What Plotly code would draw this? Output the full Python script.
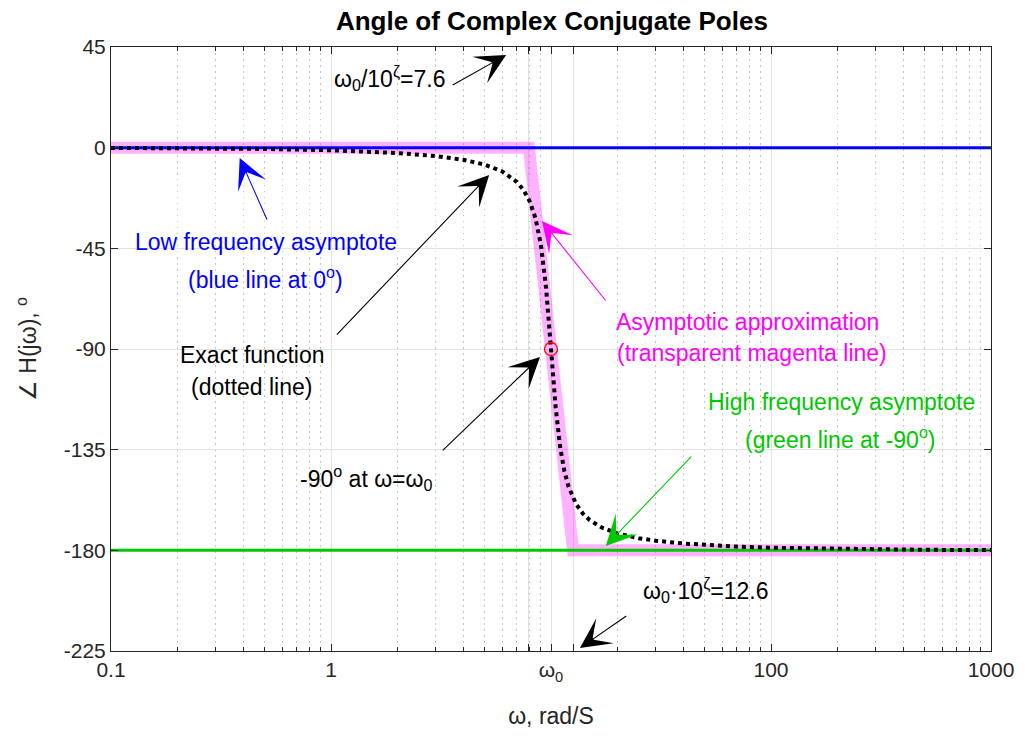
import plotly.graph_objects as go

# Frequencies (rad/s) and phase (deg) of the exact second-order response
omega_exact = [0.1, 0.2, 0.5, 1, 1.5, 2, 3, 4, 5, 6, 7, 7.5, 8, 8.5, 9, 9.5,
               10, 10.5, 11, 11.5, 12, 13, 14, 15, 17, 20, 25, 30, 40, 50,
               70, 100, 200, 500, 1000]
phase_exact = [-0.11, -0.23, -0.57, -1.16, -1.74, -2.39, -3.77, -5.44, -7.59,
               -10.62, -15.35, -18.92, -23.96, -31.49, -43.45, -62.83,
               -90.0, -116.02, -133.67, -144.50, -151.39, -159.35, -163.74,
               -166.50, -169.80, -172.41, -174.56, -175.71, -176.95, -177.61,
               -178.33, -178.84, -179.43, -179.77, -179.89]

# Straight-line asymptotic approximation (breaks at w0/10^z and w0*10^z)
omega_asym = [0.1, 7.94, 12.6, 1000]
phase_asym = [0, 0, -180, -180]

# Low and high frequency asymptotes
omega_span = [0.1, 1000]
phase_low = [0, 0]
phase_high = [-180, -180]

# Marked point at the natural frequency
omega_0 = [10]
phase_w0 = [-90]

# Axis ticks
x_tickvals = [0.1, 1, 7.94, 10, 12.6, 100, 1000]
x_ticktext = ["0.1", "1", "", "ω<sub>0</sub>", "", "100", "1000"]
x_minorvals = ([m * 0.1 for m in range(2, 10)] + [m for m in range(2, 10)] +
               [m * 10 for m in range(2, 10)] + [m * 100 for m in range(2, 10)])
y_tickvals = [-225, -180, -135, -90, -45, 0, 45]
y_ticktext = ["-225", "-180", "-135", "-90", "-45", "0", "45"]

FONT = "Liberation Sans, Arial, Helvetica, sans-serif"
AXC = "#262626"
TXT = 23

fig = go.Figure()
fig.add_trace(go.Scatter(x=omega_asym, y=phase_asym, mode="lines",
                         line=dict(color="rgba(255,0,255,0.3)", width=12),
                         hoverinfo="skip"))
fig.add_trace(go.Scatter(x=omega_span, y=phase_low, mode="lines",
                         line=dict(color="#0000ff", width=3), hoverinfo="skip"))
fig.add_trace(go.Scatter(x=omega_span, y=phase_high, mode="lines",
                         line=dict(color="#00c800", width=3), hoverinfo="skip"))
fig.add_trace(go.Scatter(x=omega_exact, y=phase_exact, mode="lines",
                         line=dict(color="black", width=4, dash="dot"),
                         hoverinfo="skip"))
fig.add_trace(go.Scatter(x=omega_0, y=phase_w0, mode="markers",
                         marker=dict(symbol="circle-open", size=13, color="red",
                                     line=dict(width=1.3, color="red")),
                         hoverinfo="skip"))


def label(x, y, text, color="black"):
    fig.add_annotation(x=x, y=y, xref="x", yref="y", text=text, showarrow=False,
                       font=dict(family=FONT, size=TXT, color=color),
                       xanchor="center", yanchor="middle")


def arrow(x0, y0, x1, y1, color="black"):
    # tail at (x0, y0), head at (x1, y1); x in log10 units
    fig.add_annotation(x=x1, y=y1, ax=x0, ay=y0, xref="x", yref="y",
                       axref="x", ayref="y", text="", showarrow=True,
                       arrowhead=3, arrowsize=4.6, arrowwidth=1.1,
                       arrowcolor=color, standoff=0, startstandoff=0)


label(0.265, 31.1, "ω<sub>0</sub>/10<sup>ζ</sup>=7.6")
arrow(0.5465, 27.6, 0.796, 41.4)

label(-0.297, -42.2, "Low frequency asymptote", "#0000ff")
label(-0.297, -58.3, "(blue line at 0<sup>o</sup>)", "#0000ff")
arrow(-0.288, -32.8, -0.415, -4.6, "#0000ff")

label(-0.36, -92.7, "Exact function")
label(-0.36, -107.0, "(dotted line)")
arrow(0.020, -84.2, 0.719, -12.2)

label(0.161, -147.7, "-90<sup>o</sup> at ω=ω<sub>0</sub>")
arrow(0.501, -136.0, 0.950, -93.6)

label(1.893, -77.9, "Asymptotic approximation", "#ff00ff")
label(1.912, -91.8, "(transparent magenta line)", "#ff00ff")
arrow(1.254, -69.0, 0.959, -32.8, "#ff00ff")

label(2.320, -113.7, "High frequency asymptote", "#00c800")
label(2.315, -129.8, "(green line at -90<sup>o</sup>)", "#00c800")
arrow(1.644, -137.4, 1.249, -178.1, "#00c800")

label(1.703, -197.7, "ω<sub>0</sub>·10<sup>ζ</sup>=12.6")
arrow(1.349, -208.9, 1.1315, -223.7)

fig.update_layout(
    width=1026, height=743,
    margin=dict(l=111, r=33, t=47, b=92),
    paper_bgcolor="white", plot_bgcolor="white",
    showlegend=False,
    font=dict(family=FONT, size=21, color=AXC),
    title=dict(text="<b>Angle of Complex Conjugate Poles</b>",
               x=0.5379, xanchor="center", y=0.972, yanchor="middle",
               font=dict(family=FONT, size=26, color="black")),
)

fig.update_xaxes(
    type="log", range=[-1, 3],
    tickmode="array", tickvals=x_tickvals, ticktext=x_ticktext,
    ticks="inside", ticklen=7, tickwidth=1, tickcolor=AXC,
    showline=True, linecolor=AXC, linewidth=1, mirror="ticks",
    showgrid=True, gridcolor="#e2e2e2", gridwidth=1,
    tickfont=dict(family=FONT, size=21, color=AXC),
    minor=dict(tickmode="array", tickvals=x_minorvals, ticks="inside",
               ticklen=4, tickcolor=AXC, showgrid=True,
               gridcolor="#c6c6c6", griddash="1.5px,4.5px", gridwidth=1),
    title=dict(text="ω, rad/S", standoff=24,
               font=dict(family=FONT, size=23, color=AXC)),
    zeroline=False,
)
fig.update_yaxes(
    range=[-225, 45],
    tickmode="array", tickvals=y_tickvals, ticktext=y_ticktext,
    ticks="inside", ticklen=7, tickwidth=1, tickcolor=AXC,
    showline=True, linecolor=AXC, linewidth=1, mirror="ticks",
    showgrid=True, gridcolor="#e2e2e2", gridwidth=1,
    tickfont=dict(family=FONT, size=21, color=AXC),
    title=dict(text="∠ H(jω), <sup>o</sup>", standoff=20,
               font=dict(family=FONT, size=23, color=AXC)),
    zeroline=False,
)

fig.write_html("out.html")
